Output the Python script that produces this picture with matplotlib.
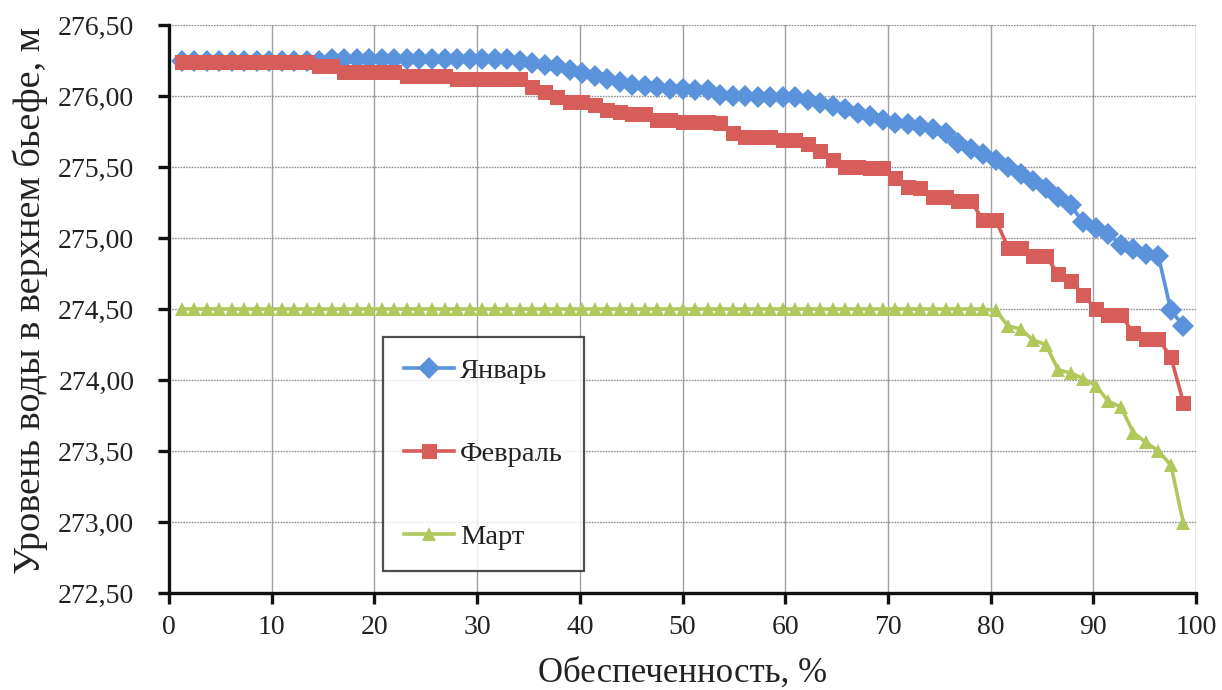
import matplotlib
matplotlib.use("Agg")
import matplotlib.pyplot as plt
from matplotlib.ticker import FixedLocator

# ---- data ----
probability = [1.22, 2.44, 3.66, 4.88, 6.10, 7.32, 8.54, 9.76, 10.98, 12.20,
               13.41, 14.63, 15.85, 17.07, 18.29, 19.51, 20.73, 21.95, 23.17, 24.39,
               25.61, 26.83, 28.05, 29.27, 30.49, 31.71, 32.93, 34.15, 35.37, 36.59,
               37.80, 39.02, 40.24, 41.46, 42.68, 43.90, 45.12, 46.34, 47.56, 48.78,
               50.00, 51.22, 52.44, 53.66, 54.88, 56.10, 57.32, 58.54, 59.76, 60.98,
               62.20, 63.41, 64.63, 65.85, 67.07, 68.29, 69.51, 70.73, 71.95, 73.17,
               74.39, 75.61, 76.83, 78.05, 79.27, 80.49, 81.71, 82.93, 84.15, 85.37,
               86.59, 87.80, 89.02, 90.24, 91.46, 92.68, 93.90, 95.12, 96.34, 97.56,
               98.78]

january = [276.25, 276.25, 276.25, 276.25, 276.25, 276.25, 276.25, 276.25, 276.25, 276.25,
           276.25, 276.25, 276.26, 276.26, 276.26, 276.26, 276.26, 276.26, 276.26, 276.26,
           276.26, 276.26, 276.26, 276.26, 276.26, 276.26, 276.26, 276.25, 276.23, 276.22,
           276.21, 276.18, 276.16, 276.14, 276.12, 276.10, 276.08, 276.07, 276.06, 276.05,
           276.05, 276.04, 276.04, 276.01, 276.00, 276.00, 275.99, 275.99, 275.99, 275.99,
           275.97, 275.95, 275.93, 275.91, 275.88, 275.86, 275.83, 275.81, 275.80, 275.79,
           275.77, 275.74, 275.67, 275.63, 275.59, 275.55, 275.50, 275.45, 275.40, 275.35,
           275.29, 275.23, 275.11, 275.07, 275.03, 274.95, 274.92, 274.89, 274.87, 274.49,
           274.38]

february = [276.24, 276.24, 276.24, 276.24, 276.24, 276.24, 276.24, 276.24, 276.24, 276.24,
            276.24, 276.21, 276.21, 276.17, 276.17, 276.17, 276.17, 276.17, 276.14, 276.14,
            276.14, 276.14, 276.12, 276.12, 276.12, 276.12, 276.12, 276.12, 276.06, 276.03,
            275.99, 275.96, 275.96, 275.94, 275.90, 275.89, 275.87, 275.87, 275.83, 275.83,
            275.82, 275.82, 275.82, 275.81, 275.74, 275.71, 275.71, 275.71, 275.69, 275.69,
            275.66, 275.61, 275.55, 275.50, 275.50, 275.49, 275.49, 275.42, 275.36, 275.35,
            275.29, 275.29, 275.26, 275.26, 275.13, 275.13, 274.93, 274.93, 274.87, 274.87,
            274.75, 274.70, 274.60, 274.50, 274.46, 274.46, 274.33, 274.29, 274.29, 274.16,
            273.84]

march = [274.50, 274.50, 274.50, 274.50, 274.50, 274.50, 274.50, 274.50, 274.50, 274.50,
         274.50, 274.50, 274.50, 274.50, 274.50, 274.50, 274.50, 274.50, 274.50, 274.50,
         274.50, 274.50, 274.50, 274.50, 274.50, 274.50, 274.50, 274.50, 274.50, 274.50,
         274.50, 274.50, 274.50, 274.50, 274.50, 274.50, 274.50, 274.50, 274.50, 274.50,
         274.50, 274.50, 274.50, 274.50, 274.50, 274.50, 274.50, 274.50, 274.50, 274.50,
         274.50, 274.50, 274.50, 274.50, 274.50, 274.50, 274.50, 274.50, 274.50, 274.50,
         274.50, 274.50, 274.50, 274.50, 274.50, 274.49, 274.38, 274.36, 274.28, 274.25,
         274.07, 274.05, 274.01, 273.96, 273.85, 273.81, 273.63, 273.56, 273.50, 273.40,
         272.99]

series_names = ["Январь", "Февраль", "Март"]
x_ticks = [0, 10, 20, 30, 40, 50, 60, 70, 80, 90, 100]
y_ticks = [272.5, 273.0, 273.5, 274.0, 274.5, 275.0, 275.5, 276.0, 276.5]
y_tick_labels = ["272,50", "273,00", "273,50", "274,00", "274,50",
                 "275,00", "275,50", "276,00", "276,50"]
x_label = "Обеспеченность, %"
y_label = "Уровень воды в верхнем бьефе, м"

# ---- style ----
plt.rcParams["font.family"] = ["Liberation Serif", "DejaVu Serif"]

fig = plt.figure(figsize=(12.22, 6.90), dpi=100)
ax = fig.add_axes([169 / 1222, 1 - 593 / 690, (1196 - 169) / 1222, (593 - 25) / 690])

c_blue = "#5a92dc"
c_red = "#d75d5b"
c_green = "#b0c85c"

ax.plot(probability, january, color=c_blue, lw=2.6, marker="D", ms=11.5,
        markeredgewidth=0, label=series_names[0], zorder=3)
ax.plot(probability, february, color=c_red, lw=2.6, marker="s", ms=10.8,
        markeredgewidth=0, label=series_names[1], zorder=4)
ax.plot(probability, march, color=c_green, lw=2.6, marker="^", ms=9.8,
        markeredgewidth=0, label=series_names[2], zorder=5)

ax.set_xlim(0, 100)
ax.set_ylim(272.5, 276.5)
ax.xaxis.set_major_locator(FixedLocator(x_ticks))
ax.set_yticks(y_ticks)
ax.set_yticklabels(y_tick_labels)

ax.grid(True, axis="x", color="#a0a0a0", lw=1.0, zorder=0)
ax.grid(True, axis="y", color="#909090", lw=1.0, ls=(0, (1.2, 0.8)), zorder=0)

for side in ("top", "right"):
    ax.spines[side].set_visible(False)
for side in ("left", "bottom"):
    ax.spines[side].set_linewidth(2.4)
    ax.spines[side].set_color("#111111")

ax.tick_params(axis="both", which="major", labelsize=20, width=2.4, length=8,
               direction="out", color="#111111", labelcolor="#222222")
ax.tick_params(axis="x", pad=8)
ax.tick_params(axis="y", pad=17)

ax.set_xlabel(x_label, fontsize=25, color="#222222", labelpad=12)
ax.set_ylabel(y_label, fontsize=27.5, color="#222222")
ax.yaxis.set_label_coords((48 - 169) / 1027, (593 - 300) / 568)

leg = ax.legend(loc="upper left", bbox_to_anchor=(383 / 1222, 1 - 337 / 690),
                bbox_transform=fig.transFigure, fontsize=20.5, frameon=True,
                fancybox=False, edgecolor="#222222", borderpad=0.75,
                labelspacing=2.0, handlelength=1.75, handletextpad=0.2,
                borderaxespad=0.0)
leg.get_frame().set_linewidth(1.6)
for t in leg.get_texts():
    t.set_color("#222222")

fig.savefig("out.png", dpi=100)
